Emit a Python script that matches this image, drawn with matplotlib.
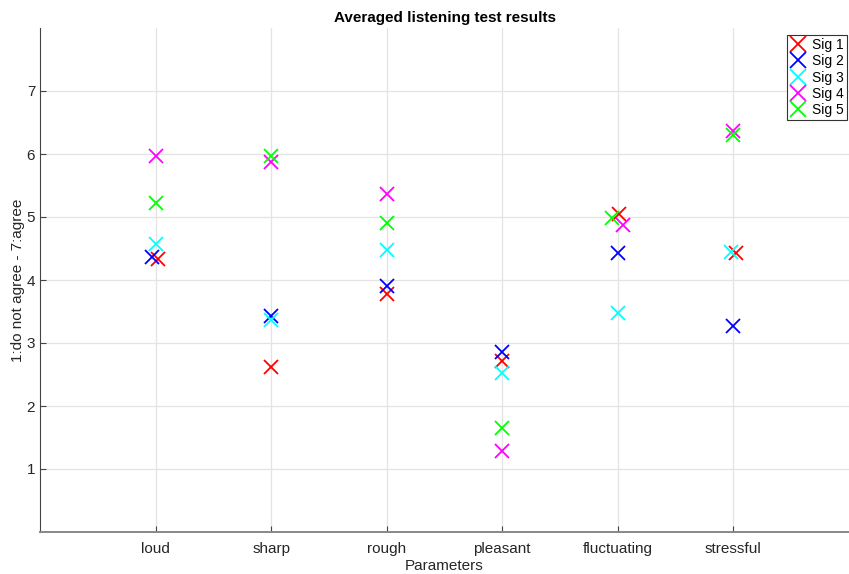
import matplotlib
matplotlib.use("Agg")
import matplotlib.pyplot as plt

plt.rcParams['font.family'] = ['Liberation Sans', 'DejaVu Sans']

categories = ["loud", "sharp", "rough", "pleasant", "fluctuating", "stressful"]
signals = ["Sig 1", "Sig 2", "Sig 3", "Sig 4", "Sig 5"]
colors = ["#ff0000", "#0000ff", "#00ffff", "#ff00ff", "#00ff00"]

# mean ratings per signal, one value per category
sig1 = [4.34, 2.62, 3.77, 2.72, 5.05, 4.43]
sig2 = [4.36, 3.43, 3.90, 2.85, 4.43, 3.27]
sig3 = [4.57, 3.37, 4.48, 2.53, 3.48, 4.45]
sig4 = [5.97, 5.87, 5.37, 1.29, 4.88, 6.37]
sig5 = [5.22, 5.97, 4.90, 1.65, 4.98, 6.30]
values = [sig1, sig2, sig3, sig4, sig5]

# small horizontal shifts used in the original to separate overlapping crosses
shift1 = [0.02, 0, 0, 0, 0.01, 0.02]
shift2 = [-0.035, 0, 0, 0, 0, 0]
shift3 = [0, 0, 0, 0, 0, -0.02]
shift4 = [0, 0, 0, 0, 0.045, 0]
shift5 = [0, 0, 0, 0, -0.05, 0]
shifts = [shift1, shift2, shift3, shift4, shift5]

fig = plt.figure(figsize=(8.49, 5.74), dpi=100)
ax = fig.add_axes([40 / 849, 1 - 532 / 574, 1 - 40 / 849, (532 - 28) / 574])

xpos = list(range(1, len(categories) + 1))
for name, col, vals, sh in zip(signals, colors, values, shifts):
    xs = [x + s for x, s in zip(xpos, sh)]
    ax.plot(xs, vals, linestyle="none", marker="x", color=col,
            markersize=10.5, markeredgewidth=1.3, label=name)

ax.set_xlim(0, 7)
ax.set_ylim(0, 8)
ax.set_xticks(xpos, labels=categories)
ax.set_yticks(range(1, 8))
ax.grid(True, color="#e3e3e3", linewidth=0.9)
ax.set_axisbelow(True)
for side in ["top", "right"]:
    ax.spines[side].set_visible(False)
ax.spines["left"].set_color("#444444")
ax.spines["bottom"].set_color("#888888")
ax.spines["bottom"].set_linewidth(1.4)
ax.tick_params(direction="in", length=4, colors="#444444", labelsize=11,
               labelcolor="#262626")
ax.tick_params(axis="x", pad=7)

ax.set_xlabel("Parameters", fontsize=11, color="#262626", labelpad=2)
ax.set_ylabel("1:do not agree - 7:agree", fontsize=11, color="#262626", labelpad=1)
ax.set_title("Averaged listening test results", fontsize=11, fontweight="bold", pad=4)

leg = ax.legend(loc="upper right", bbox_to_anchor=(0.997, 0.986), borderaxespad=0,
                fontsize=10, fancybox=False, framealpha=1, edgecolor="#333333",
                handlelength=1.2, handletextpad=0.4, borderpad=0.2,
                labelspacing=0.17, markerscale=1.15)
leg.get_frame().set_linewidth(0.8)

fig.savefig("out.png", dpi=100)
